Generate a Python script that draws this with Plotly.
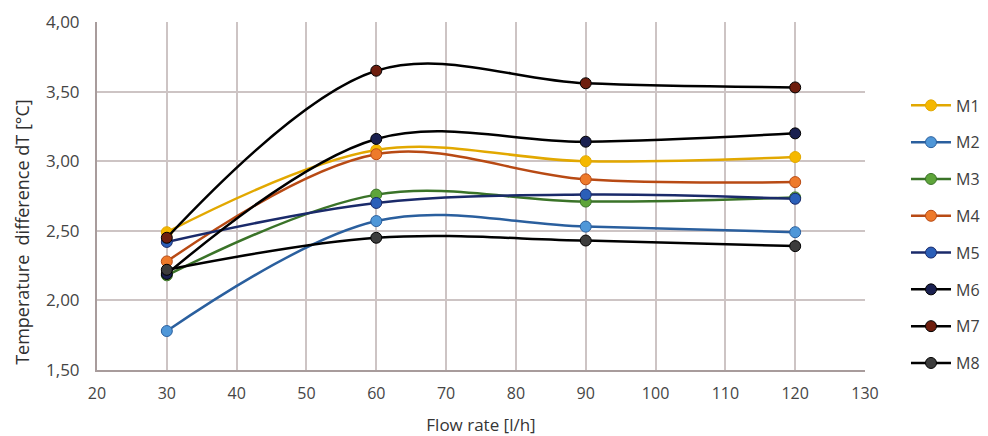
import plotly.graph_objects as go

flow_rate = [30, 60, 90, 120]
series_names = ["M1", "M2", "M3", "M4", "M5", "M6", "M7", "M8"]
M1 = [2.49, 3.08, 3.00, 3.03]
M2 = [1.78, 2.57, 2.53, 2.49]
M3 = [2.18, 2.76, 2.71, 2.74]
M4 = [2.28, 3.05, 2.87, 2.85]
M5 = [2.42, 2.70, 2.76, 2.73]
M6 = [2.19, 3.16, 3.14, 3.20]
M7 = [2.45, 3.65, 3.56, 3.53]
M8 = [2.22, 2.45, 2.43, 2.39]
series_values = [M1, M2, M3, M4, M5, M6, M7, M8]

line_colors = ["#e2a800", "#2a5f9e", "#3a7328", "#b84a14", "#1a2a6a", "#000000", "#000000", "#000000"]
marker_colors = ["#f5b800", "#4f97d8", "#5ea53a", "#ee7a2b", "#2b5fb8", "#1a2050", "#6e1e0e", "#3c3c3c"]

fig = go.Figure()
for name, vals, lc, mc in zip(series_names, series_values, line_colors, marker_colors):
    fig.add_trace(go.Scatter(
        x=flow_rate, y=vals, name=name, mode="lines+markers",
        line=dict(color=lc, width=2.5, shape="spline", smoothing=1.0),
        marker=dict(color=mc, size=11, line=dict(color=lc, width=1)),
        legendgroup=name,
    ))

fig.update_layout(
    width=988, height=428,
    margin=dict(l=89, r=130, t=14, b=66),
    paper_bgcolor="white", plot_bgcolor="white",
    separators=",.",
    font=dict(family="Open Sans, sans-serif", size=15, color="#454545"),
    showlegend=True,
    legend=dict(x=1.052, xanchor="left", y=0.809, yanchor="top",
                tracegroupgap=13, font=dict(size=16, family="Open Sans, sans-serif", color="#404040"),
                itemwidth=40, bgcolor="rgba(0,0,0,0)"),
    annotations=[dict(
        text="Temperature  difference dT [°C]", textangle=-90,
        xref="paper", yref="paper", x=0, y=0.397, xanchor="center", yanchor="middle",
        xshift=-75, showarrow=False,
        font=dict(size=18, family="Open Sans, sans-serif", color="#303030"),
    )],
)
fig.update_xaxes(
    range=[20, 130], tick0=20, dtick=10, showgrid=True, gridcolor="#cdc4c4", gridwidth=2,
    showline=True, linecolor="#a89c9c", linewidth=2, mirror=False, zeroline=False,
    ticks="", ticklabelstandoff=8, automargin=False,
    tickfont=dict(family="Open Sans, sans-serif", size=16, color="#454545"),
    title=dict(text="Flow rate [l/h]", font=dict(size=17, family="Open Sans, sans-serif", color="#353535"), standoff=20),
)
fig.update_yaxes(
    range=[1.5, 4.0], tick0=1.5, dtick=0.5, tickformat=".2f", showgrid=True, gridcolor="#cdc4c4", gridwidth=2,
    showline=True, linecolor="#a89c9c", linewidth=2, zeroline=False, ticks="", automargin=False,
    ticklabelstandoff=12,
    tickfont=dict(family="Open Sans, sans-serif", size=17, color="#454545"),
)
fig.write_html("out.html")
